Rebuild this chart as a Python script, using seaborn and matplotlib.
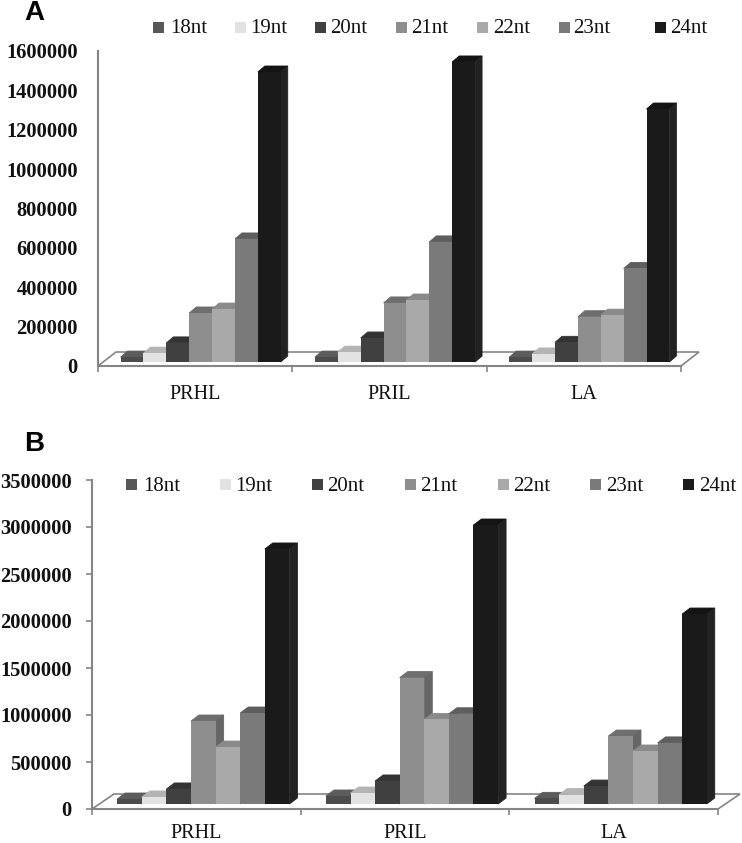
import numpy as np
import pandas as pd
import seaborn as sns
import matplotlib.pyplot as plt
from matplotlib.patches import Polygon, Rectangle
from matplotlib.transforms import Affine2D, IdentityTransform

samples = ['PRHL', 'PRIL', 'LA']
sizes = ['18nt', '19nt', '20nt', '21nt', '22nt', '23nt', '24nt']

# panel A
a_prhl = [25000, 45000, 97000, 249000, 269000, 625000, 1473000]
a_pril = [25000, 50000, 122000, 300000, 315000, 610000, 1524000]
a_la = [25000, 41000, 100000, 230000, 238000, 475000, 1285000]
a_ticks = [0, 200000, 400000, 600000, 800000, 1000000, 1200000, 1400000, 1600000]

# panel B
b_prhl = [53000, 75000, 160000, 883000, 606000, 968000, 2713000]
b_pril = [85000, 117000, 245000, 1345000, 900000, 960000, 2968000]
b_la = [60000, 100000, 191000, 723000, 564000, 650000, 2021000]
b_ticks = [0, 500000, 1000000, 1500000, 2000000, 2500000, 3000000, 3500000]

front = ['#4c4c4c', '#e2e2e2', '#404040', '#8e8e8e', '#a9a9a9', '#7a7a7a', '#1a1a1a']
top = ['#5c5c5c', '#b4b4b4', '#333333', '#6e6e6e', '#8a8a8a', '#5e5e5e', '#141414']
side = ['#383838', '#bdbdbd', '#2c2c2c', '#666666', '#7c7c7c', '#585858', '#222222']

W, H = 742, 843
AXIS_GREY = '#858585'
SERIF = 'Liberation Serif'

sns.set_theme(style='white')
plt.rcParams['font.family'] = SERIF
fig = plt.figure(figsize=(W / 100, H / 100), dpi=100)


def px_axes(left, right, ytop, ybottom):
    return fig.add_axes([left / W, 1 - ybottom / H, (right - left) / W, (ybottom - ytop) / H])


def panel(ax, rows, ticks, bar_width, shift, depth, floor, tick_len, label_pad):
    df = pd.DataFrame(rows, index=samples, columns=sizes).reset_index(names='sample')
    df = df.melt(id_vars='sample', var_name='size', value_name='reads')
    sns.barplot(df, x='sample', y='reads', hue='size', hue_order=sizes, order=samples,
                palette=front, saturation=1, width=bar_width, gap=0, legend=False,
                linewidth=0, ax=ax)
    ax.set_xlim(-0.5, 2.5)
    ax.set_ylim(ticks[0], ticks[-1])
    ax.autoscale(False)
    ax.set_xlabel('')
    ax.set_ylabel('')
    ax.set_facecolor('none')

    # fake 3D: move the bars onto the floor and add top and side faces
    moved = ax.transData + Affine2D().translate(*shift)
    dx, dy = depth
    for i, bars in enumerate(ax.containers):
        for bar in bars:
            bar.set_transform(moved)
            bar.set_zorder(4 + 2 * i)
            bar.set_clip_on(False)
            (x0, y0), (x1, y1) = moved.transform(
                [(bar.get_x(), 0), (bar.get_x() + bar.get_width(), bar.get_height())])
            faces = [([(x0, y1), (x1, y1), (x1 + dx, y1 + dy), (x0 + dx, y1 + dy)], top[i]),
                     ([(x1, y0), (x1 + dx, y0 + dy), (x1 + dx, y1 + dy), (x1, y1)], side[i])]
            for pts, color in faces:
                ax.add_patch(Polygon(pts, closed=True, facecolor=color, edgecolor=color,
                                     linewidth=0.6, transform=IdentityTransform(),
                                     clip_on=False, zorder=3 + 2 * i))

    # floor outline
    (xl, yb), (xr, _) = ax.transData.transform([(-0.5, 0), (2.5, 0)])
    fx, fy = floor
    ax.add_patch(Polygon([(xl, yb), (xr, yb), (xr + fx, yb + fy), (xl + fx, yb + fy)],
                         closed=True, fill=False, edgecolor=AXIS_GREY, linewidth=1.2,
                         transform=IdentityTransform(), clip_on=False, zorder=2))

    sns.despine(ax=ax, top=True, right=True)
    for s in ['left', 'bottom']:
        ax.spines[s].set_color(AXIS_GREY)
        ax.spines[s].set_linewidth(1.5)

    ax.set_yticks(ticks)
    ax.set_yticklabels([str(t) for t in ticks], fontsize=14.8, fontweight='bold',
                       family=SERIF, color='#111111')
    ax.tick_params(axis='y', length=tick_len, width=1.2, color=AXIS_GREY,
                   pad=14.4 - tick_len, left=True)

    ax.set_xticks([-0.5, 0.5, 1.5, 2.5])
    ax.set_xticklabels([])
    ax.set_xticks([0, 1, 2], minor=True)
    ax.set_xticklabels(samples, minor=True, fontsize=14.5, family=SERIF, color='#111111')
    ax.tick_params(axis='x', which='major', length=4, width=1.2, color=AXIS_GREY, bottom=True)
    ax.tick_params(axis='x', which='minor', length=0, pad=label_pad)


def key(squares, labels_x, y):
    for i, name in enumerate(sizes):
        fig.add_artist(Rectangle((squares[i] / W, 1 - (y + 5.5) / H), 11 / W, 11 / H,
                                 transform=fig.transFigure, facecolor=front[i] if i else '#585858',
                                 edgecolor='none'))
        fig.text(labels_x[i] / W, 1 - (y + 1.5) / H, name, fontsize=15, va='center', ha='left',
                 family=SERIF, color='#111111')


ax_a = px_axes(98, 681, 51, 366)
panel(ax_a, [a_prhl, a_pril, a_la], a_ticks, 0.824, (5.5, 4), (7, 6), (18, 14), 0, 13.5)
key([153, 235, 315, 396, 477, 559, 655], [170, 250, 330, 411, 493, 573, 670], 27)

ax_b = px_axes(92, 718, 480, 809)
panel(ax_b, [b_prhl, b_pril, b_la], b_ticks, 0.825, (7, 5), (8, 6), (22, 15), 4, 10.5)
key([126, 220, 312, 405, 498, 590, 683], [143, 235, 327, 420, 513, 606, 699], 485)

for letter, y in [('A', 13), ('B', 444)]:
    fig.text(24 / W, 1 - y / H, letter, fontsize=20, fontweight='bold', va='center', ha='left',
             family='Liberation Sans', color='black')

fig.savefig('out.png', dpi=100)
